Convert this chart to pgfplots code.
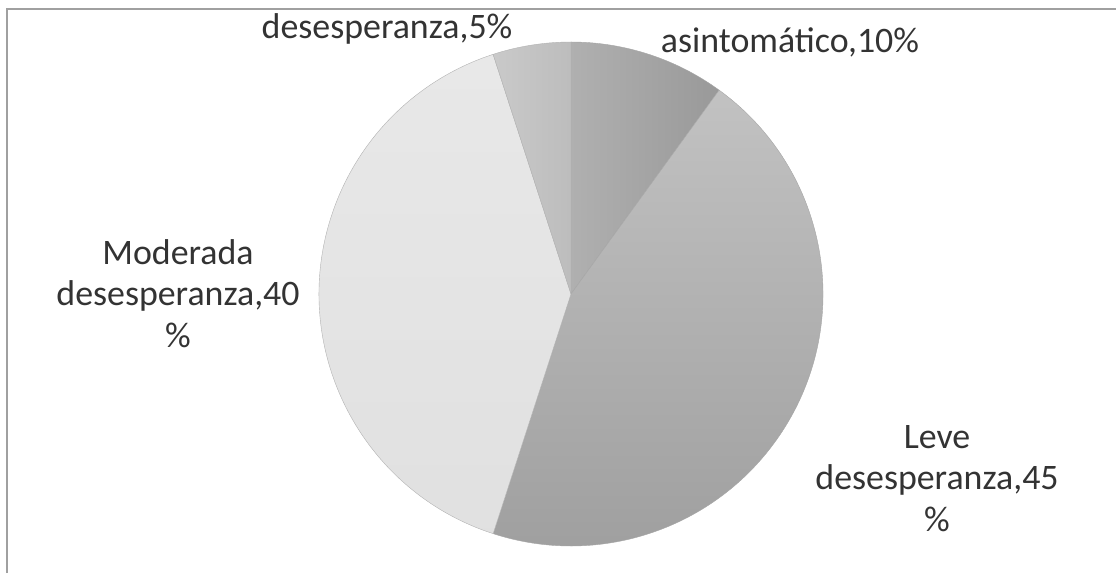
\documentclass[border=0pt]{standalone}
\usepackage{pgfplots}
\pgfplotsset{compat=1.18}
\usepackage{fontspec}
\setmainfont{Carlito}
\definecolor{txt}{HTML}{333333}
\definecolor{frame}{HTML}{A0A0A0}
\begin{document}%
\begin{tikzpicture}
% values (percent), clockwise from 12 o'clock
\def\vA{10}% asintomatico
\def\vB{45}% Leve desesperanza
\def\vC{40}% Moderada desesperanza
\def\vD{5}%  desesperanza
\pgfmathsetmacro{\aA}{90}
\pgfmathsetmacro{\aB}{\aA-3.6*\vA}
\pgfmathsetmacro{\aC}{\aB-3.6*\vB}
\pgfmathsetmacro{\aD}{\aC-3.6*\vC}
\pgfmathsetmacro{\aE}{\aD-3.6*\vD}
\def\R{252bp}
\begin{axis}[
  hide axis, scale only axis,
  width=1117bp, height=573bp,
  xmin=0, xmax=1117, ymin=0, ymax=573,
  clip=false,
]
\path[draw=none,fill=none] (axis cs:0,0) rectangle (axis cs:1117,573);
% asintomatico
\shade[left color=black!31, right color=black!40, draw=black!35, line width=0.4bp]
  (axis cs:571,279) -- ++(\aA:\R) arc[start angle=\aA, end angle=\aB, radius=\R] -- cycle;
% Leve
\shade[top color=black!24, middle color=black!26, bottom color=black!38, draw=black!35, line width=0.4bp]
  (axis cs:571,279) -- ++(\aB:\R) arc[start angle=\aB, end angle=\aC, radius=\R] -- cycle;
% Moderada
\shade[top color=black!9, bottom color=black!12, draw=black!30, line width=0.4bp]
  (axis cs:571,279) -- ++(\aC:\R) arc[start angle=\aC, end angle=\aD, radius=\R] -- cycle;
% 5%
\shade[left color=black!21, right color=black!26, draw=black!30, line width=0.4bp]
  (axis cs:571,279) -- ++(\aD:\R) arc[start angle=\aD, end angle=\aE, radius=\R] -- cycle;
% frame (top and left edges)
\draw[frame, line width=2bp] (axis cs:7,0) -- (axis cs:7,564) -- (axis cs:1116,564);
% labels
\tikzset{lbl/.style={text=txt, font=\fontsize{36}{43}\selectfont, anchor=base, inner sep=0pt}}
\node[lbl] at (axis cs:387,534) {desesperanza,5\%};
\node[lbl] at (axis cs:790,520) {asintomático,10\%};
\node[lbl] at (axis cs:178,308) {Moderada};
\node[lbl] at (axis cs:178,267) {desesperanza,40};
\node[lbl] at (axis cs:178,225) {\%};
\node[lbl] at (axis cs:937,124) {Leve};
\node[lbl] at (axis cs:937,83) {desesperanza,45};
\node[lbl] at (axis cs:937,41) {\%};
\end{axis}
\end{tikzpicture}%
\end{document}
